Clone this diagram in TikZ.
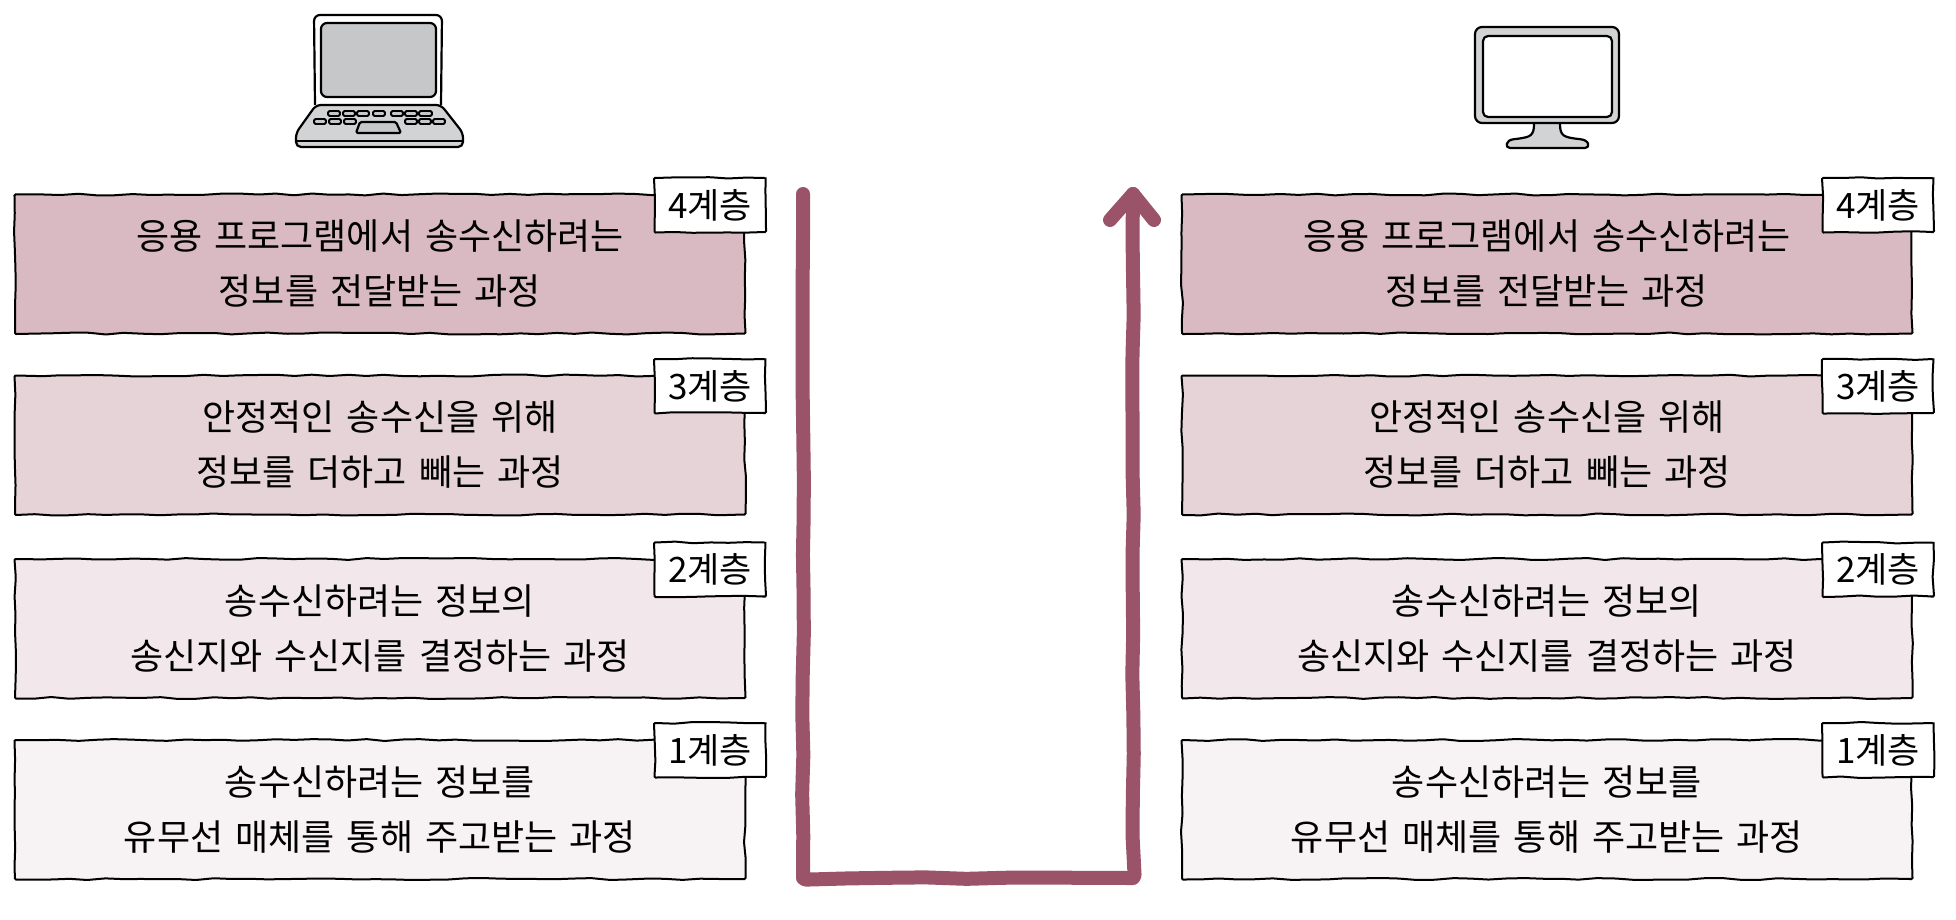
\documentclass[tikz,border=0pt]{standalone}
\usepackage{fontspec}
\setmainfont[WordSpace=1.5]{Noto Sans CJK KR}
\usetikzlibrary{decorations.pathmorphing}
\definecolor{arrowc}{HTML}{9A5369}
\definecolor{fa}{HTML}{D9BAC3}
\definecolor{fb}{HTML}{E5D3D8}
\definecolor{fc}{HTML}{F2E8EB}
\definecolor{fd}{HTML}{F7F3F4}
\definecolor{gl}{HTML}{C6C7C9}
\definecolor{gm}{HTML}{D1D3D4}
\tikzset{
  wob/.style={decorate,decoration={random steps,segment length=18pt,amplitude=1pt}},
  layerbox/.style={draw=black,line width=2pt,minimum width=730pt,minimum height=139pt,inner sep=0pt,
    align=center,font=\fontsize{36}{55}\selectfont,wob,rounded corners=1pt},
  tagbox/.style={draw=black,line width=2pt,fill=white,minimum width=111pt,minimum height=54pt,inner sep=0pt,
    font=\fontsize{35}{36}\selectfont,wob,rounded corners=1pt},
  flow/.style={draw=arrowc,line width=14pt,line join=round,line cap=round},
  flowline/.style={flow,decorate,decoration={random steps,segment length=40pt,amplitude=1pt},rounded corners=3pt},
  dev/.style={draw=black,line width=2.2pt,line join=round,rounded corners=4pt},
  keycap/.style={draw=black,line width=1.8pt,fill=gl,rounded corners=1.5pt},
}
\begin{document}
\begin{tikzpicture}[x=1pt,y=-1pt]
\pgfmathsetseed{11}
\useasboundingbox (0,0) rectangle (1956,920);
% laptop
\draw[dev,fill=white,rounded corners=6pt] (315,105) -- (314,15) -- (442,15) -- (441,105);
\draw[dev,fill=gl,rounded corners=6pt] (321,23) -- (436,23) -- (436,97) -- (321,97) -- cycle;
\draw[dev,fill=gm,rounded corners=5pt] (316,105) -- (441,105) -- (463,133) -- (463,147) -- (296,147) -- (296,133) -- cycle;
\draw[draw=black,line width=2.2pt] (297,141) -- (462,141);
\foreach \xa/\xb in {328/340,343/355,357/369,373/385,391/403,405/417,419/432}
  \draw[keycap] (\xa,111) rectangle (\xb,116);
\foreach \xa/\xb in {314/326,329/341,344/356,405/417,419/431,433/445}
  \draw[keycap] (\xa,119) rectangle (\xb,124);
\draw[dev,fill=gl,rounded corners=1.5pt] (360,122) -- (396,122) -- (401,133) -- (356,133) -- cycle;
% monitor
\draw[dev,fill=gm,rounded corners=2pt] (1534,122) .. controls (1534,136) and (1530,137) .. (1516,139) .. controls (1505,140) and (1505,148) .. (1512,148) -- (1583,148) .. controls (1590,148) and (1590,140) .. (1578,139) .. controls (1564,137) and (1560,136) .. (1560,122) -- cycle;
\draw[dev,fill=gm,rounded corners=7pt] (1475,27) rectangle (1619,123);
\draw[dev,fill=white,rounded corners=5pt] (1483,36) rectangle (1612,117);
% flow connector
\coordinate (fstart) at (803,194);
\coordinate (fbl) at (803,878);
\coordinate (fbr) at (1133,878);
\coordinate (ftip) at (1133,194);
\coordinate (hl) at (1110,220);
\coordinate (hr) at (1154,220);
\draw[flowline] (fstart) -- (fbl) -- (fbr) -- (ftip);
\draw[flow] (hl) -- (ftip) -- (hr);
% left stack
\node[layerbox,fill=fa] (l4) at (380,264) {응용 프로그램에서 송수신하려는\\정보를 전달받는 과정};
\node[layerbox,fill=fb] (l3) at (380,445) {안정적인 송수신을 위해\\정보를 더하고 빼는 과정};
\node[layerbox,fill=fc] (l2) at (380,628.5) {송수신하려는 정보의\\송신지와 수신지를 결정하는 과정};
\node[layerbox,fill=fd] (l1) at (380,809.5) {송수신하려는 정보를\\유무선 매체를 통해 주고받는 과정};
\node[tagbox] (lt4) at (710,205) {4계층};
\node[tagbox] (lt3) at (710,386) {3계층};
\node[tagbox] (lt2) at (710,569.5) {2계층};
\node[tagbox] (lt1) at (710,750) {1계층};
% right stack
\node[layerbox,fill=fa] (r4) at (1547,264) {응용 프로그램에서 송수신하려는\\정보를 전달받는 과정};
\node[layerbox,fill=fb] (r3) at (1547,445) {안정적인 송수신을 위해\\정보를 더하고 빼는 과정};
\node[layerbox,fill=fc] (r2) at (1547,628.5) {송수신하려는 정보의\\송신지와 수신지를 결정하는 과정};
\node[layerbox,fill=fd] (r1) at (1547,809.5) {송수신하려는 정보를\\유무선 매체를 통해 주고받는 과정};
\node[tagbox] (rt4) at (1878,205) {4계층};
\node[tagbox] (rt3) at (1878,386) {3계층};
\node[tagbox] (rt2) at (1878,569.5) {2계층};
\node[tagbox] (rt1) at (1878,750) {1계층};
\end{tikzpicture}
\end{document}
